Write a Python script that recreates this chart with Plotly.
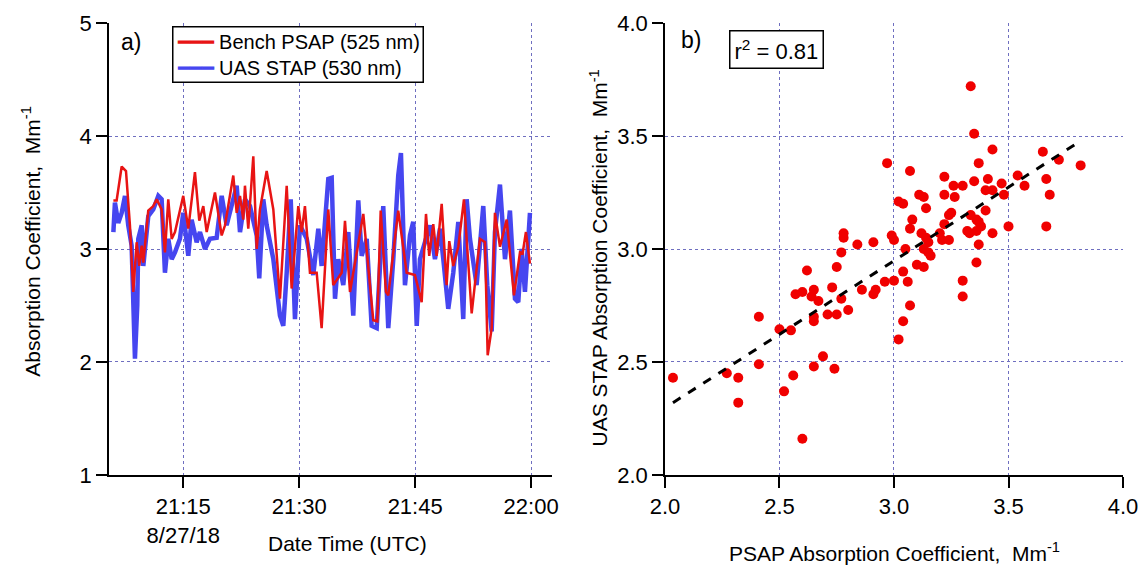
import pandas as pd
import plotly.graph_objects as go

# time series, minutes after 21:00 UTC on 8/27/18
psap_min = [5.96, 6.38, 7.03, 7.59, 8.1, 8.53, 8.97, 9.31, 9.62, 9.83, 10.47, 11.12, 11.56, 12.2, 12.63,
            13.06, 13.5, 13.93, 15.0, 15.65, 16.51, 17.07, 17.59, 18.03, 19.1, 19.97, 20.4, 21.47, 21.91,
            22.34, 22.76, 22.98, 23.41, 24.06, 24.5, 24.92, 25.79, 26.65, 27.51, 28.38, 29.02, 29.88,
            30.32, 30.74, 31.39, 32.26, 32.9, 33.76, 34.4, 35.49, 35.92, 36.57, 38.29, 39.15, 39.58,
            40.1, 40.54, 41.22, 41.52, 42.81, 43.9, 44.97, 45.84, 46.4, 46.82, 47.34, 47.78, 48.43,
            49.07, 49.41, 49.93, 50.58, 51.31, 52.31, 53.38, 54.03, 54.38, 54.9, 55.32, 55.97, 56.84,
            57.78, 58.56, 58.9, 59.33, 59.85]
psap_abs = [3.43, 3.43, 3.73, 3.69, 3.21, 2.62, 3.06, 2.85, 3.03, 2.88, 3.34, 3.38, 3.44, 3.35, 2.97,
            3.44, 3.09, 3.15, 3.47, 3.18, 3.68, 3.25, 3.38, 3.15, 3.5, 3.12, 3.21, 3.65, 3.32,
            3.47, 3.26, 3.56, 3.18, 3.82, 3.0, 3.35, 3.69, 3.35, 2.56, 3.56, 2.65, 3.38,
            3.15, 3.38, 2.79, 2.79, 2.3, 3.35, 2.68, 2.79, 3.25, 2.62, 3.31, 2.68, 2.37,
            2.36, 3.34, 2.62, 2.59, 3.34, 2.79, 2.77, 2.53, 3.31, 2.94, 3.22, 2.94, 3.4,
            2.68, 3.07, 2.85, 3.02, 3.44, 2.43, 3.09, 3.06, 2.06, 2.3, 3.32, 3.02, 3.26,
            2.59, 2.97, 2.96, 3.15, 2.87]

stap_min = [5.96, 6.16, 6.59, 7.03, 7.46, 7.88, 8.32, 8.53, 8.75, 9.05, 9.18, 9.62, 9.83, 10.47, 11.12,
            11.77, 12.2, 12.63, 13.06, 13.5, 13.93, 14.57, 15.0, 15.65, 16.08, 16.73, 17.16, 17.81,
            18.45, 19.32, 19.97, 20.61, 21.26, 21.91, 22.34, 22.98, 23.63, 24.5, 24.83, 25.35, 25.79,
            26.65, 27.51, 27.94, 28.38, 28.9, 29.45, 30.1, 30.97, 31.82, 32.47, 32.9, 33.76, 34.2,
            34.63, 35.05, 35.7, 36.35, 36.99, 37.64, 38.08, 38.73, 39.37, 40.02, 40.87, 41.52, 42.17,
            42.81, 43.16, 43.68, 44.33, 44.75, 45.2, 45.62, 46.27, 46.91, 47.56, 48.21, 48.64, 49.28,
            49.93, 50.58, 51.22, 51.66, 52.09, 52.95, 53.81, 54.33, 54.9, 55.32, 55.97, 56.62, 57.26,
            57.91, 58.34, 58.78, 59.2, 59.85]
stap_abs = [3.15, 3.41, 3.23, 3.32, 3.47, 3.21, 3.03, 2.5, 2.03, 2.5, 3.09, 3.21, 2.85, 3.29, 3.35,
            3.47, 3.44, 2.79, 3.09, 2.91, 2.97, 3.09, 3.32, 2.94, 3.26, 3.06, 3.15, 3.0,
            3.09, 3.1, 3.47, 3.21, 3.38, 3.56, 3.15, 3.44, 3.38, 3.12, 2.74, 3.44, 3.21,
            2.91, 2.41, 2.32, 2.79, 3.44, 2.38, 3.21, 3.09, 2.77, 3.18, 2.85, 3.62, 3.63,
            2.56, 2.91, 2.68, 3.15, 2.41, 3.43, 2.94, 3.09, 2.32, 2.3, 3.38, 2.3, 2.91,
            3.65, 3.85, 2.68, 3.12, 3.24, 2.32, 2.91, 3.06, 3.21, 2.91, 3.18, 2.91, 2.47,
            2.79, 3.24, 2.38, 3.44, 3.09, 2.68, 3.38, 2.68, 2.27, 3.15, 3.57, 2.91, 3.34,
            2.56, 2.53, 3.0, 2.62, 3.32]

# scatter: PSAP vs UAS STAP
psap_x = [2.035, 2.27, 2.32, 2.32, 2.41, 2.41, 2.50, 2.52, 2.55, 2.56, 2.57, 2.60, 2.60, 2.62, 2.64,
          2.65, 2.65, 2.65, 2.65, 2.67, 2.69, 2.71, 2.73, 2.74, 2.75, 2.75, 2.77, 2.78, 2.78, 2.77,
          2.80, 2.84, 2.86, 2.91, 2.91, 2.92, 2.96, 2.99, 3.0, 3.0, 3.02, 3.06, 3.04, 3.10, 3.05,
          3.07, 3.04, 3.13, 3.02, 3.04, 3.08, 3.07, 3.11, 3.13, 3.14, 3.12, 3.14, 3.15, 3.13, 3.15,
          3.16, 3.20, 3.21, 3.24, 3.22, 3.24, 3.25, 3.22, 3.265, 3.26, 3.30, 3.35, 3.32, 3.33, 3.335,
          3.36, 3.37, 3.38, 3.36, 3.40, 3.37, 3.36, 3.30, 3.30, 3.43, 3.40, 3.43, 3.47, 3.48, 3.50,
          3.57, 3.335, 3.35, 3.43, 3.37, 2.97, 3.07, 3.22, 3.41, 3.54, 3.65, 3.72, 3.815, 3.665,
          3.68, 3.665]
stap_y = [2.43, 2.45, 2.43, 2.32, 2.70, 2.49, 2.645, 2.37, 2.64, 2.44, 2.80, 2.81, 2.16, 2.905, 2.79,
          2.70, 2.68, 2.48, 2.82, 2.77, 2.525, 2.71, 2.83, 2.47, 2.92, 2.71, 2.985, 3.07, 3.05, 2.78,
          2.73, 3.02, 2.82, 3.03, 2.80, 2.82, 2.855, 3.06, 2.86, 3.04, 2.60, 2.855, 2.90, 2.93, 3.0,
          2.75, 2.68, 2.92, 3.21, 3.20, 3.13, 3.09, 3.24, 3.23, 3.18, 3.07, 3.05, 3.03, 3.0, 2.985,
          2.97, 3.07, 3.04, 3.04, 3.11, 3.15, 3.16, 3.24, 3.23, 3.28, 3.28, 3.30, 3.08, 3.07, 3.15,
          3.13, 3.12, 3.10, 3.08, 3.17, 3.02, 2.94, 2.86, 2.79, 3.07, 3.26, 3.26, 3.29, 3.24, 3.10,
          3.28, 3.72, 3.51, 3.44, 3.38, 3.38, 3.345, 3.32, 3.31, 3.325, 3.43, 3.395, 3.37, 3.31,
          3.24, 3.10]

fit_slope = 0.651
fit_intercept = 0.995
fit_x = [2.035, 3.81]
r_squared = 0.81

series_names = ["Bench PSAP (525 nm)", "UAS STAP (530 nm)"]
series_colors = ["#e81414", "#4646f0"]

base = pd.Timestamp("2018-08-27 21:00:00")
psap_t = [base + pd.Timedelta(minutes=m) for m in psap_min]
stap_t = [base + pd.Timedelta(minutes=m) for m in stap_min]
fit_y = [fit_slope * v + fit_intercept for v in fit_x]

FONT = "Liberation Sans, Arial, Helvetica, sans-serif"
GRID = "#6f6fc0"

fig = go.Figure()
fig.add_trace(go.Scatter(x=stap_t, y=stap_abs, mode="lines", name=series_names[1],
                         line=dict(color=series_colors[1], width=4.5), xaxis="x", yaxis="y"))
fig.add_trace(go.Scatter(x=psap_t, y=psap_abs, mode="lines", name=series_names[0],
                         line=dict(color=series_colors[0], width=2.5), xaxis="x", yaxis="y"))
fig.add_trace(go.Scatter(x=psap_x, y=stap_y, mode="markers",
                         marker=dict(color="#f00000", size=10), xaxis="x2", yaxis="y2"))
fig.add_trace(go.Scatter(x=fit_x, y=fit_y, mode="lines",
                         line=dict(color="black", width=3, dash="dash"), xaxis="x2", yaxis="y2"))

axis_common = dict(showline=True, linecolor="black", linewidth=1.5, ticks="outside", ticklen=11,
                   tickwidth=1.5, tickcolor="black", showgrid=True, gridcolor=GRID, gridwidth=1,
                   griddash="dot", zeroline=False, automargin=False,
                   tickfont=dict(size=22, color="black"))

t_ticks = [base + pd.Timedelta(minutes=m) for m in [15, 30, 45, 60]]
t_labels = ["21:15<br>8/27/18", "21:30", "21:45", "22:00"]

fig.update_layout(
    width=1140, height=567,
    margin=dict(l=0, r=0, t=0, b=0, pad=0, autoexpand=False),
    paper_bgcolor="white", plot_bgcolor="white",
    font=dict(family=FONT, color="black"),
    showlegend=False,
    xaxis=dict(domain=[0.0956, 0.4842], type="date",
               range=[base + pd.Timedelta(minutes=5.39), base + pd.Timedelta(minutes=62.7)],
               tickvals=t_ticks, ticktext=t_labels, **axis_common),
    yaxis=dict(domain=[0.1623, 0.9594], range=[1, 5], dtick=1, anchor="x", **axis_common),
    xaxis2=dict(domain=[0.5833, 0.9851], range=[2, 4], dtick=0.5, tickformat=".1f",
                anchor="y2", **axis_common),
    yaxis2=dict(domain=[0.1623, 0.9594], range=[2, 4], dtick=0.5, tickformat=".1f",
                anchor="x2", **axis_common),
)

annos = [
    dict(text="a)", x=0.115, y=0.926),
    dict(text="b)", x=0.606, y=0.93),
    dict(text="Date Time (UTC)", x=0.305, y=0.042),
    dict(text="PSAP Absorption Coefficient,  Mm<sup>-1</sup>", x=0.785, y=0.026),
    dict(text="Absorption Coefficient,  Mm<sup>-1</sup>", x=0.027, y=0.575, textangle=-90),
    dict(text="UAS STAP Absorption Coefficient,  Mm<sup>-1</sup>", x=0.525, y=0.545, textangle=-90),
]
for a in annos:
    size = 23 if a["text"].endswith(")") and len(a["text"]) == 2 else 21
    fig.add_annotation(xref="paper", yref="paper", showarrow=False, xanchor="center",
                       yanchor="middle", font=dict(size=size, color="black"), **a)

# legend box (drawn as a bordered annotation so the rows sit as tight as the original)
legend_rows = [f"<span style='color:{c}'>━━━</span> {n}" for n, c in zip(series_names, series_colors)]
fig.add_annotation(xref="paper", yref="paper", x=0.1509, y=0.954, xanchor="left", yanchor="top",
                   showarrow=False, align="left", text="<br>".join(legend_rows),
                   font=dict(size=20, color="black"), bordercolor="black", borderwidth=1.5,
                   borderpad=3, bgcolor="white")

fig.add_annotation(xref="paper", yref="paper", x=0.681, y=0.913, showarrow=False,
                   xanchor="center", yanchor="middle", text=f"r<sup>2</sup> = {r_squared}",
                   font=dict(size=22, color="black"), bordercolor="black", borderwidth=1.5,
                   borderpad=4, bgcolor="white")

fig.write_html("out.html", config={"displayModeBar": False},
               post_script="document.body.style.margin='0';")
